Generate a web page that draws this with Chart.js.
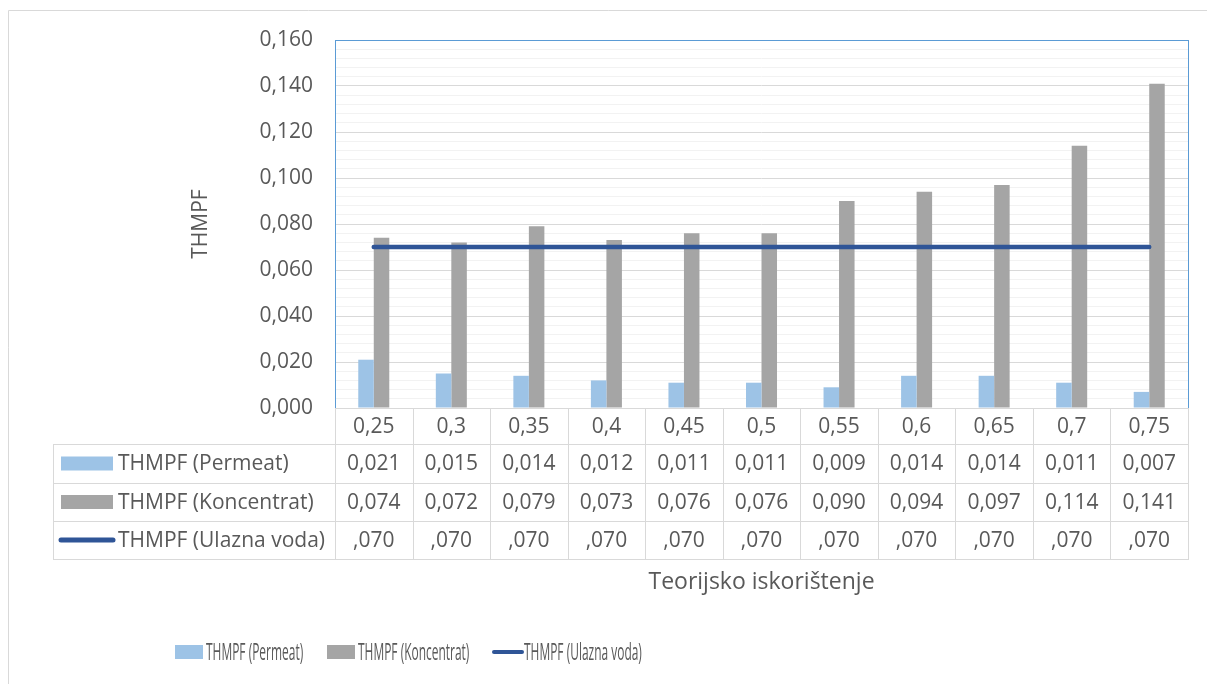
<!DOCTYPE html>
<html lang="hr">
<head>
  <meta charset="UTF-8" />
  <title>THMPF</title>
  <script src="https://cdn.jsdelivr.net/npm/chart.js"></script>
  <style>
    html, body { margin: 0; padding: 0; background: #fff; }
  </style>
</head>
<body>
  <canvas id="chart" width="1207" height="684"></canvas>

  <script>
    // data
    const categories = [0.25, 0.3, 0.35, 0.4, 0.45, 0.5, 0.55, 0.6, 0.65, 0.7, 0.75];
    const permeat    = [0.021, 0.015, 0.014, 0.012, 0.011, 0.011, 0.009, 0.014, 0.014, 0.011, 0.007];
    const koncentrat = [0.074, 0.072, 0.079, 0.073, 0.076, 0.076, 0.090, 0.094, 0.097, 0.114, 0.141];
    const ulazna     = [0.070, 0.070, 0.070, 0.070, 0.070, 0.070, 0.070, 0.070, 0.070, 0.070, 0.070];
    const seriesNames = ['THMPF (Permeat)', 'THMPF (Koncentrat)', 'THMPF (Ulazna voda)'];
    const yTitle = 'THMPF';
    const xTitle = 'Teorijsko iskorištenje';

    const TEXT = '#595959';
    const FONT = '"Open Sans", "Noto Sans", sans-serif';
    const colors = ['#9DC3E6', '#A5A5A5', '#2F5597'];

    const fmt = v => v.toFixed(3).replace('.', ',');
    const fmtLine = v => fmt(v).replace(/^0/, '');   // Excel shows ",070"
    const fmtCat = v => String(v).replace('.', ',');

    // draws the outer frame, plot border, data table, x title and legend
    const excelBits = {
      id: 'excelBits',
      beforeDraw(chart) {
        const c = chart.ctx;
        c.save();
        c.strokeStyle = '#D9D9D9';
        c.lineWidth = 1;
        c.beginPath();
        c.moveTo(8.5, 700); c.lineTo(8.5, 10.5); c.lineTo(1300, 10.5);
        c.stroke();
        c.restore();
      },
      afterDatasetsDraw(chart) {
        const c = chart.ctx;
        const a = chart.chartArea;
        const xs = chart.scales.x;
        const n = categories.length;
        const w = (a.right - a.left) / n;
        const tableLeft = 53;
        const rows = [a.bottom, 444, 483, 521, 559];

        c.save();
        // plot border
        c.strokeStyle = '#5B9BD5';
        c.lineWidth = 1;
        c.strokeRect(Math.round(a.left) + 0.5, Math.round(a.top) + 0.5,
          Math.round(a.right - a.left), Math.round(a.bottom - a.top));

        // table grid
        c.strokeStyle = '#D9D9D9';
        c.beginPath();
        c.moveTo(a.left, Math.round(rows[0]) + 0.5);
        c.lineTo(a.right + 1, Math.round(rows[0]) + 0.5);
        for (let r = 1; r < rows.length; r++) {
          c.moveTo(tableLeft, rows[r] + 0.5);
          c.lineTo(a.right + 1, rows[r] + 0.5);
        }
        c.moveTo(tableLeft + 0.5, rows[1]);
        c.lineTo(tableLeft + 0.5, rows[4] + 1);
        for (let i = 0; i <= n; i++) {
          const x = Math.round(a.left + i * w) + 0.5;
          c.moveTo(x, rows[0] + 1);
          c.lineTo(x, rows[4] + 1);
        }
        c.stroke();

        // table text
        c.fillStyle = TEXT;
        c.font = '21px ' + FONT;
        c.textAlign = 'center';
        c.textBaseline = 'middle';
        const lines = [permeat, koncentrat, ulazna];
        categories.forEach((cat, i) => {
          const x = xs.getPixelForValue(i);
          c.fillText(fmtCat(cat), x, (rows[0] + rows[1]) / 2 + 1);
          lines.forEach((arr, r) => {
            const f = r === 2 ? fmtLine : fmt;
            c.fillText(f(arr[i]), x, (rows[r + 1] + rows[r + 2]) / 2 + 1);
          });
        });

        // row headers with legend keys
        c.textAlign = 'left';
        seriesNames.forEach((name, r) => {
          const cy = (rows[r + 1] + rows[r + 2]) / 2;
          if (r < 2) {
            c.fillStyle = colors[r];
            c.fillRect(61, cy - 7, 52, 14);
          } else {
            c.strokeStyle = colors[2];
            c.lineWidth = 5;
            c.lineCap = 'round';
            c.beginPath();
            c.moveTo(61, cy); c.lineTo(113, cy);
            c.stroke();
          }
          c.fillStyle = TEXT;
          c.fillText(name, 118, cy + 1);
        });

        // x title
        c.textAlign = 'center';
        c.font = '23px ' + FONT;
        c.fillText(xTitle, (a.left + a.right) / 2, 582);

        // legend (text squeezed like the reference)
        const legendY = 652;
        const keys = [175, 327, 492];
        seriesNames.forEach((name, r) => {
          const kx = keys[r];
          if (r < 2) {
            c.fillStyle = colors[r];
            c.fillRect(kx, legendY - 7, 28, 14);
          } else {
            c.strokeStyle = colors[2];
            c.lineWidth = 4;
            c.lineCap = 'round';
            c.beginPath();
            c.moveTo(kx + 2, legendY); c.lineTo(kx + 30, legendY);
            c.stroke();
          }
          c.save();
          c.translate(kx + (r < 2 ? 31 : 32), legendY + 1);
          c.scale(0.52, 1);
          c.fillStyle = TEXT;
          c.textAlign = 'left';
          c.font = '23px ' + FONT;
          c.fillText(name, 0, 0);
          c.restore();
        });
        c.restore();
      }
    };

    new Chart(document.getElementById('chart'), {
      data: {
        labels: categories.map(fmtCat),
        datasets: [
          {
            type: 'line',
            label: seriesNames[2],
            data: ulazna,
            borderColor: colors[2],
            borderWidth: 4.5,
            borderCapStyle: 'round',
            pointRadius: 0,
            order: 0
          },
          {
            type: 'bar',
            label: seriesNames[0],
            data: permeat,
            backgroundColor: colors[0],
            categoryPercentage: 0.4,
            barPercentage: 1.0,
            order: 1
          },
          {
            type: 'bar',
            label: seriesNames[1],
            data: koncentrat,
            backgroundColor: colors[1],
            categoryPercentage: 0.4,
            barPercentage: 1.0,
            order: 1
          }
        ]
      },
      options: {
        responsive: false,
        animation: false,
        layout: { padding: { left: 188, top: 40, right: 19, bottom: 0 } },
        plugins: {
          legend: { display: false },
          tooltip: { enabled: false }
        },
        scales: {
          x: {
            ticks: { display: false },
            grid: { display: false },
            border: { display: false },
            afterFit(scale) { scale.height = 276; }
          },
          y: {
            min: 0,
            max: 0.16,
            afterFit(scale) { scale.width = 335 - 188; },
            ticks: {
              stepSize: 0.004,
              autoSkip: false,
              padding: 22,
              color: TEXT,
              font: { family: FONT, size: 21 },
              callback: (v, i) => (i % 5 === 0 ? fmt(v) : '')
            },
            grid: {
              drawTicks: false,
              color: ctx => (ctx.index % 5 === 0 ? '#D9D9D9' : '#F2F2F2'),
              lineWidth: 1
            },
            border: { display: false },
            title: {
              display: true,
              text: yTitle,
              color: TEXT,
              font: { family: FONT, size: 21, weight: 'normal' },
              padding: 0
            }
          }
        }
      },
      plugins: [excelBits]
    });
  </script>
</body>
</html>
